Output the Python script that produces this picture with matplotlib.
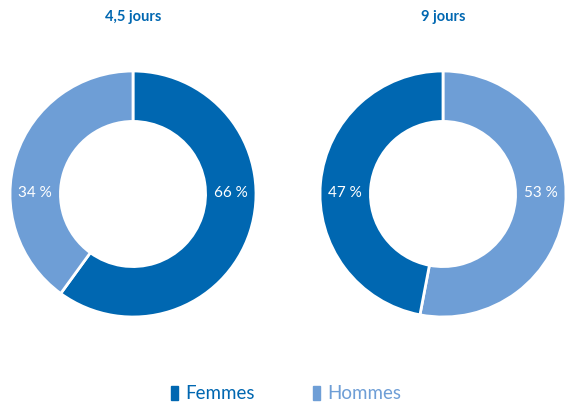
import matplotlib.pyplot as plt
from matplotlib.patches import Rectangle

plt.rcParams['font.family'] = ['Lato', 'DejaVu Sans']

titles = ['4,5 jours', '9 jours']
categories = ['Femmes', 'Hommes']
# printed labels
femmes_lbl = [66, 47]
hommes_lbl = [34, 53]
# wedge sizes as drawn in the picture
femmes = [60, 47]
hommes = [40, 53]

dark = '#0067B1'
light = '#6E9ED6'

fig = plt.figure(figsize=(5.66, 4.06), dpi=100)

centers = [133, 443]
r_px = 123
for i, cx in enumerate(centers):
    ax = fig.add_axes([(cx - r_px) / 566, (406 - 195 - r_px) / 406,
                       2 * r_px / 566, 2 * r_px / 406])
    if i == 0:
        vals = [femmes[i], hommes[i]]
        cols = [dark, light]
        right_lbl, left_lbl = femmes_lbl[i], hommes_lbl[i]
    else:
        vals = [hommes[i], femmes[i]]
        cols = [light, dark]
        right_lbl, left_lbl = hommes_lbl[i], femmes_lbl[i]
    ax.pie(vals, colors=cols, startangle=90, counterclock=False, radius=1,
           wedgeprops=dict(width=0.41, edgecolor='white', linewidth=2))
    ax.set_xlim(-1, 1)
    ax.set_ylim(-1, 1)
    ax.set_aspect('equal')
    rmid = 0.795
    ax.text(rmid, 0.02, f'{right_lbl} %', ha='center', va='center',
            color='white', fontsize=11)
    ax.text(-rmid, 0.02, f'{left_lbl} %', ha='center', va='center',
            color='white', fontsize=11)
    fig.text(cx / 566, 1 - 17 / 406, titles[i], ha='center', va='center',
             color=dark, fontsize=10.5, fontweight='bold')

# legend
leg_items = [(171, 'Femmes', dark), (313, 'Hommes', light)]
for x, lbl, c in leg_items:
    fig.patches.append(Rectangle((x / 566, (406 - 401) / 406), 7 / 566, 14 / 406,
                                 transform=fig.transFigure, color=c))
    fig.text((x + 14) / 566, 1 - 394 / 406, lbl, ha='left', va='center',
             color=c, fontsize=13.5)

fig.savefig('out.png', dpi=100)
